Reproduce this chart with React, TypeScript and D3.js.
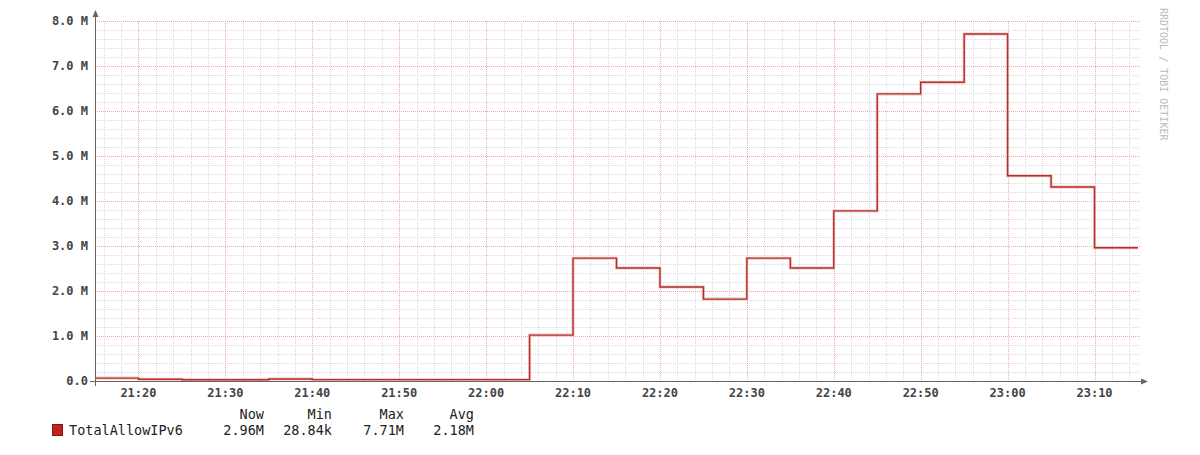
import React from "react";
import * as d3 from "d3";

const stepStarts = ["21:15","21:20","21:25","21:30","21:35","21:40","21:45","21:50","21:55","22:00","22:05","22:10","22:15","22:20","22:25","22:30","22:35","22:40","22:45","22:50","22:55","23:00","23:05","23:10"];
const stepValues = [0.065e6,0.04e6,0.029e6,0.029e6,0.045e6,0.03e6,0.03e6,0.03e6,0.03e6,0.03e6,1.02e6,2.73e6,2.51e6,2.09e6,1.82e6,2.73e6,2.51e6,3.78e6,6.38e6,6.64e6,7.71e6,4.56e6,4.31e6,2.96e6];
const rangeStart = "21:15";
const rangeEnd = "23:15";
const yTickValues = [0,1e6,2e6,3e6,4e6,5e6,6e6,7e6,8e6];
const yTickLabels = ["0.0","1.0 M","2.0 M","3.0 M","4.0 M","5.0 M","6.0 M","7.0 M","8.0 M"];
const seriesName = "TotalAllowIPv6";
const legendHeaders = ["Now","Min","Max","Avg"];
const legendValues = ["2.96M","28.84k","7.71M","2.18M"];

const toDate = (s: string) => {
  const [h, m] = s.split(":").map(Number);
  return new Date(2020, 0, 1, h, m);
};

const MONO = "'DejaVu Sans Mono', monospace";

export default function App() {
  const left = 95, right = 1138, top = 21, bottom = 381;
  const x = d3.scaleTime().domain([toDate(rangeStart), toDate(rangeEnd)]).range([left, right]);
  const y = d3.scaleLinear().domain([0, 8e6]).range([bottom, top]);

  const pts: [Date, number][] = stepStarts.map((s, i) => [toDate(s), stepValues[i]]);
  pts.push([toDate(rangeEnd), stepValues[stepValues.length - 1]]);
  const line = d3.line<[Date, number]>().x(d => x(d[0])).y(d => y(d[1])).curve(d3.curveStepAfter);
  const path = line(pts) || "";

  const majorX = x.ticks(d3.timeMinute.every(10) as any);
  const minorX = x.ticks(d3.timeMinute.every(2) as any).filter(d => d.getMinutes() % 10 !== 0);
  const minorY = d3.range(0, 8e6 + 1, 0.2e6).filter(v => Math.round(v / 0.2e6) % 5 !== 0);
  const fmt = d3.timeFormat("%H:%M");

  const headerRight = [264, 332, 404, 474];

  return (
    <svg width={1200} height={455} style={{ position: "absolute", left: 0, top: 0, background: "#fff" }}>
      <rect x={0} y={0} width={1200} height={455} fill="#fff" />
      {/* minor grid */}
      {minorX.map((d, i) => (
        <line key={"mx" + i} x1={Math.round(x(d)) + 0.5} x2={Math.round(x(d)) + 0.5} y1={top} y2={bottom} stroke="#dadada" strokeDasharray="1,1" strokeWidth={1} />
      ))}
      {minorY.map((v, i) => (
        <line key={"my" + i} x1={left} x2={right + 2} y1={Math.round(y(v)) + 0.5} y2={Math.round(y(v)) + 0.5} stroke="#dadada" strokeDasharray="1,1" strokeWidth={1} />
      ))}
      {/* major grid */}
      {majorX.map((d, i) => (
        <line key={"Mx" + i} x1={Math.round(x(d)) + 0.5} x2={Math.round(x(d)) + 0.5} y1={top} y2={bottom} stroke="#f2a8a8" strokeDasharray="1,1" strokeWidth={1} />
      ))}
      {yTickValues.map((v, i) => (
        <line key={"My" + i} x1={left} x2={right + 2} y1={Math.round(y(v)) + 0.5} y2={Math.round(y(v)) + 0.5} stroke="#f2a8a8" strokeDasharray="1,1" strokeWidth={1} />
      ))}
      {/* series */}
      <path d={path} fill="none" stroke="#f0c4c2" strokeWidth={3} strokeLinejoin="miter" />
      <path d={path} fill="none" stroke="#b3302b" strokeWidth={1.4} strokeLinejoin="miter" />
      {/* axes */}
      <line x1={left + 0.5} x2={left + 0.5} y1={bottom + 5} y2={15} stroke="#666" strokeWidth={1} />
      <path d={`M${left + 0.5},10 L${left - 2.5},17 L${left + 3.5},17 Z`} fill="#666" />
      <line x1={left - 5} x2={1143} y1={bottom + 0.5} y2={bottom + 0.5} stroke="#666" strokeWidth={1} />
      <path d={`M1148,${bottom + 0.5} L1141,${bottom - 2.5} L1141,${bottom + 3.5} Z`} fill="#666" />
      {/* y labels */}
      {yTickValues.map((v, i) => (
        <text key={"yl" + i} x={88} y={y(v) + 4} textAnchor="end" fontFamily={MONO} fontSize={12} fontWeight="bold" fill="#444">{yTickLabels[i]}</text>
      ))}
      {/* x labels */}
      {majorX.map((d, i) => (
        <text key={"xl" + i} x={x(d)} y={397} textAnchor="middle" fontFamily={MONO} fontSize={12} fontWeight="bold" fill="#444">{fmt(d)}</text>
      ))}
      {/* watermark */}
      <text transform="translate(1160,8) rotate(90)" fontFamily={MONO} fontSize={10} fill="#bbb">RRDTOOL / TOBI OETIKER</text>
      {/* legend */}
      {legendHeaders.map((h, i) => (
        <text key={"lh" + i} x={headerRight[i]} y={419} textAnchor="end" fontFamily={MONO} fontSize={13.5} fill="#222">{h}</text>
      ))}
      <rect x={52.5} y={424.5} width={10} height={11} fill="#c4231c" stroke="#7a1510" strokeWidth={1} />
      <text x={69} y={435} fontFamily={MONO} fontSize={13.5} fill="#222">{seriesName}</text>
      {legendValues.map((v, i) => (
        <text key={"lv" + i} x={headerRight[i]} y={435} textAnchor="end" fontFamily={MONO} fontSize={13.5} fill="#222">{v}</text>
      ))}
    </svg>
  );
}
